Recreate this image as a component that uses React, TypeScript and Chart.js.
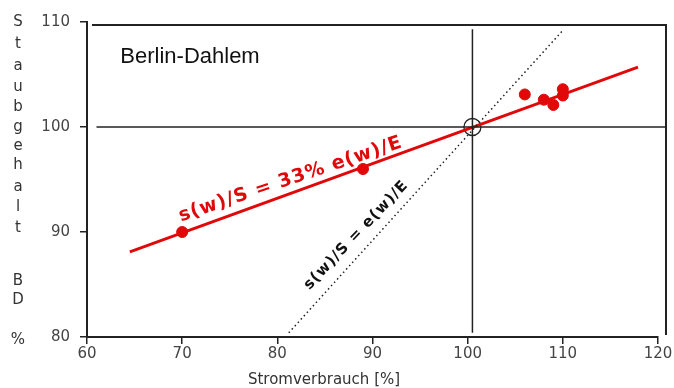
import React, { useEffect, useRef } from "react";
import { Chart, registerables } from "chart.js";

Chart.register(...registerables);

// ---- data ----
const xTickValues = [60, 70, 80, 90, 100, 110, 120];
const yTickValues = [80, 90, 100, 110];

const stromverbrauch = [70, 89, 106, 108, 109, 110, 110];
const staubgehalt = [90, 96, 103.1, 102.6, 102.1, 103.6, 103.0];

const fitX = [64.5, 117.9];
const fitY = [88.1, 105.7];

const identityX = [81.2, 110];
const identityY = [80.4, 109.2];

const refX = 100.5;
const refY = 100;
const hLineX = [61, 120.8];
const vLineY = [80.4, 109.3];

const yTitleLetters = ["S", "t", "a", "u", "b", "g", "e", "h", "a", "l", "t", "B", "D", "%"];
const yTitleLetterPos = [22, 44, 66, 87, 107, 127, 146, 165, 187, 207, 228, 281, 300, 340];

const RED = "#e00808";
const INK = "#222222";

const pts = (xs: number[], ys: number[]) => xs.map((x, i) => ({ x, y: ys[i] }));

const annotations = {
  id: "annotations",
  beforeDatasetsDraw(chart: any) {
    const { ctx, chartArea } = chart;
    ctx.save();
    ctx.strokeStyle = INK;
    ctx.lineWidth = 2;
    ctx.beginPath();
    const l = chartArea.left + 5;
    const t = chartArea.top + 3;
    const r = chartArea.right + 8;
    const b = chartArea.bottom - 2;
    ctx.moveTo(l, t);
    ctx.lineTo(r, t);
    ctx.lineTo(r, b);
    ctx.stroke();
    ctx.restore();
  },
  afterDatasetsDraw(chart: any) {
    const { ctx } = chart;
    const xs = chart.scales.x;
    const ys = chart.scales.y;
    ctx.save();
    // Berlin-Dahlem
    ctx.fillStyle = "#111";
    ctx.font = "22px 'Liberation Sans', Arial, sans-serif";
    ctx.textAlign = "left";
    ctx.textBaseline = "middle";
    ctx.fillText("Berlin-Dahlem", xs.getPixelForValue(63.5), ys.getPixelForValue(106.7));

    // red regression label
    ctx.save();
    ctx.translate(xs.getPixelForValue(81.4), ys.getPixelForValue(95.0));
    ctx.rotate((-18.5 * Math.PI) / 180);
    ctx.fillStyle = RED;
    ctx.font = "bold 19px 'DejaVu Sans', sans-serif";
    (ctx as any).letterSpacing = "1px";
    ctx.textAlign = "center";
    ctx.textBaseline = "middle";
    ctx.fillText("s(w)/S = 33% e(w)/E", 0, 0);
    ctx.restore();

    // black identity label
    ctx.save();
    ctx.translate(xs.getPixelForValue(88.3), ys.getPixelForValue(89.7));
    ctx.rotate((-46.5 * Math.PI) / 180);
    ctx.fillStyle = "#111";
    ctx.font = "bold 15px 'DejaVu Sans', sans-serif";
    (ctx as any).letterSpacing = "1px";
    ctx.textAlign = "center";
    ctx.textBaseline = "middle";
    ctx.fillText("s(w)/S = e(w)/E", 0, 0);
    ctx.restore();

    // y title stacked letters
    ctx.fillStyle = "#333";
    ctx.font = "15px 'DejaVu Sans', sans-serif";
    ctx.textAlign = "center";
    ctx.textBaseline = "middle";
    yTitleLetters.forEach((ch, i) => ctx.fillText(ch, 18, yTitleLetterPos[i]));

    // x title
    ctx.font = "15px 'DejaVu Sans', sans-serif";
    ctx.fillText("Stromverbrauch [%]", 324, 380);
    ctx.restore();
  },
};

export default function App() {
  const ref = useRef<HTMLCanvasElement | null>(null);
  useEffect(() => {
    document.body.style.margin = "0";
    if (!ref.current) return;
    const chart = new Chart(ref.current, {
      type: "scatter",
      data: {
        datasets: [
          {
            data: pts(hLineX, [refY, refY]),
            showLine: true,
            borderColor: INK,
            borderWidth: 1.5,
            pointRadius: 0,
            clip: false,
          } as any,
          {
            data: pts([refX, refX], vLineY),
            showLine: true,
            borderColor: INK,
            borderWidth: 1.5,
            pointRadius: 0,
            clip: false,
          },
          {
            data: pts(identityX, identityY),
            showLine: true,
            borderColor: INK,
            borderWidth: 1.5,
            borderDash: [1.5, 3],
            pointRadius: 0,
          },
          {
            data: pts(fitX, fitY),
            showLine: true,
            borderColor: RED,
            borderWidth: 3,
            pointRadius: 0,
          },
          {
            data: pts(stromverbrauch, staubgehalt),
            showLine: false,
            backgroundColor: RED,
            borderColor: RED,
            pointRadius: 5.5,
          },
          {
            data: [{ x: refX, y: refY }],
            showLine: false,
            backgroundColor: "rgba(0,0,0,0)",
            borderColor: INK,
            borderWidth: 1.3,
            pointRadius: 8.5,
          },
        ],
      },
      options: {
        responsive: false,
        animation: false,
        events: [],
        layout: { padding: { top: 22, right: 16, left: 0, bottom: 0 } },
        plugins: { legend: { display: false }, tooltip: { enabled: false } },
        scales: {
          x: {
            type: "linear",
            min: 60,
            max: 120,
            afterBuildTicks: (s: any) => {
              s.ticks = xTickValues.map((v) => ({ value: v }));
            },
            afterFit: (s: any) => {
              s.height = 51;
            },
            grid: { drawOnChartArea: false, drawTicks: true, tickLength: 7, color: INK, lineWidth: 1.5 },
            border: { display: true, color: INK, width: 2 },
            ticks: { font: { family: "'DejaVu Sans', sans-serif", size: 15 }, color: "#444", padding: 1, maxRotation: 0 },
          },
          y: {
            type: "linear",
            min: 80,
            max: 110,
            afterBuildTicks: (s: any) => {
              s.ticks = yTickValues.map((v) => ({ value: v }));
            },
            afterFit: (s: any) => {
              s.width = 87;
            },
            grid: { drawOnChartArea: false, drawTicks: true, tickLength: 7, color: INK, lineWidth: 1.5 },
            border: { display: true, color: INK, width: 2 },
            ticks: { font: { family: "'DejaVu Sans', sans-serif", size: 15 }, color: "#444", padding: 10 },
          },
        },
      },
      plugins: [annotations],
    });
    return () => chart.destroy();
  }, []);
  return (
    <div style={{ width: 674, height: 388 }}>
      <canvas ref={ref} width={674} height={388} style={{ display: "block" }} />
    </div>
  );
}
